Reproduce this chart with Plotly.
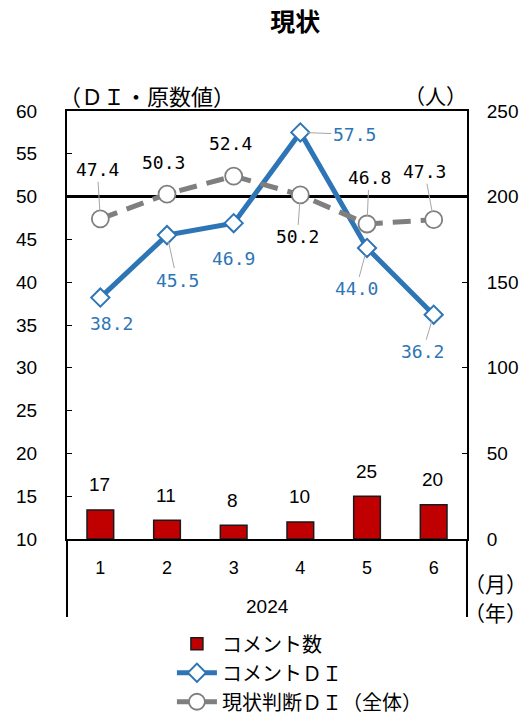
import plotly.graph_objects as go

# ---- data ----
months = ["1", "2", "3", "4", "5", "6"]
year = "2024"
comment_count = [17, 11, 8, 10, 25, 20]
comment_di = [38.2, 45.5, 46.9, 57.5, 44.0, 36.2]
overall_di = [47.4, 50.3, 52.4, 50.2, 46.8, 47.3]

left_ticks = [10, 15, 20, 25, 30, 35, 40, 45, 50, 55, 60]
right_ticks = [0, 50, 100, 150, 200, 250]

# ---- styles ----
NUM_FONT = "Liberation Sans, Arial, sans-serif"
LBL_FONT = "DejaVu Sans Mono, monospace"
JP_FONT = "Noto Sans CJK JP, sans-serif"
BLUE = "#2e75b6"
GRAY = "#7f7f7f"
RED = "#c00000"

fig = go.Figure()
fig.add_trace(go.Bar(
    x=months, y=comment_count, name="コメント数", yaxis="y",
    marker=dict(color=RED, line=dict(color="#1a1a1a", width=1.5)),
    width=0.4,
))
fig.add_trace(go.Scatter(
    x=months, y=comment_di, name="コメントＤＩ", yaxis="y2", mode="lines+markers",
    line=dict(color=BLUE, width=5),
    marker=dict(symbol="diamond", size=14, color="white", line=dict(color=BLUE, width=2)),
))
fig.add_trace(go.Scatter(
    x=months, y=overall_di, name="現状判断ＤＩ（全体）", yaxis="y2", mode="lines+markers",
    line=dict(color=GRAY, width=5, dash="18px,10px"),
    marker=dict(symbol="circle", size=17, color="white", line=dict(color=GRAY, width=1.8)),
))

annotations = []
# gray DI labels
gray_off = [(-3, -49), (-4, -32), (-3, -33), (-3, 42), (2, -46), (-9, -48)]
gray_lead = [True, False, False, True, True, True]
for i, v in enumerate(overall_di):
    ax, ay = gray_off[i]
    annotations.append(dict(
        x=i, y=v, xref="x", yref="y2", text=f"{v:.1f}",
        showarrow=True, arrowhead=0, arrowwidth=1,
        arrowcolor="#a6a6a6" if gray_lead[i] else "rgba(0,0,0,0)",
        standoff=8, ax=ax, ay=ay, font=dict(family=LBL_FONT, size=18, color="black"),
    ))
# blue DI labels
blue_off = [(11, 26), (10, 45), (0, 35), (54, 2), (-11, 41), (-11, 37)]
blue_lead = [False, True, False, True, True, True]
for i, v in enumerate(comment_di):
    ax, ay = blue_off[i]
    annotations.append(dict(
        x=i, y=v, xref="x", yref="y2", text=f"{v:.1f}",
        showarrow=True, arrowhead=0, arrowwidth=1,
        arrowcolor="#a6a6a6" if blue_lead[i] else "rgba(0,0,0,0)",
        standoff=7, ax=ax, ay=ay, font=dict(family=LBL_FONT, size=18, color=BLUE),
    ))
# bar count labels
for i, v in enumerate(comment_count):
    annotations.append(dict(
        x=i, y=v, xref="x", yref="y", text=str(v), showarrow=False,
        yanchor="middle", xanchor="center", yshift=25, xshift=-1,
        font=dict(family=NUM_FONT, size=19, color="black"),
    ))
# axis unit labels and year
jp = dict(family=JP_FONT, size=21, color="black")
annotations += [
    dict(x=0.2, y=1.0, xref="paper", yref="paper", yshift=16, text="（ＤＩ・原数値）",
         xanchor="center", yanchor="middle", showarrow=False, font=dict(family=JP_FONT, size=22, color="black")),
    dict(x=0.92, y=1.0, xref="paper", yref="paper", yshift=16, text="（人）",
         xanchor="center", yanchor="middle", showarrow=False, font=jp),
    dict(x=1.07, y=0, xref="paper", yref="paper", yshift=-44, text="（月）",
         xanchor="center", yanchor="middle", showarrow=False, font=jp),
    dict(x=1.07, y=0, xref="paper", yref="paper", yshift=-73, text="（年）",
         xanchor="center", yanchor="middle", showarrow=False, font=jp),
    dict(x=0.5, y=0, xref="paper", yref="paper", yshift=-67, text=year,
         xanchor="center", yanchor="middle", showarrow=False,
         font=dict(family=NUM_FONT, size=19, color="black")),
]

ext = dict(color="black", width=2)
fig.update_layout(
    width=529, height=720,
    margin=dict(l=67, r=62, t=111, b=181, autoexpand=False),
    paper_bgcolor="white", plot_bgcolor="white",
    title=dict(text="<b>現状</b>", x=0.558, xanchor="center", y=0.969, yanchor="middle",
               font=dict(family=JP_FONT, size=25, color="black")),
    showlegend=True,
    legend=dict(orientation="v", xref="container", x=0.325, xanchor="left",
                yref="container", y=0.133, yanchor="top",
                font=dict(family=JP_FONT, size=20, color="black"),
                bgcolor="rgba(0,0,0,0)", itemwidth=40),
    xaxis=dict(type="category", range=[-0.5, 5.5], showline=True, linecolor="black",
               linewidth=2, mirror=True, ticks="", ticklabelstandoff=11, showgrid=False,
               zeroline=False, automargin=False,
               tickfont=dict(family=NUM_FONT, size=18, color="black")),
    yaxis=dict(side="right", range=[0, 250], tickvals=right_ticks, ticks="inside",
               ticklen=5, tickcolor="black", showline=True, linecolor="black", linewidth=2,
               showgrid=False, zeroline=False, automargin=False, ticklabelstandoff=14,
               tickfont=dict(family=NUM_FONT, size=19, color="black")),
    yaxis2=dict(side="left", overlaying="y", range=[10, 60], tickvals=left_ticks,
                ticks="inside", ticklen=5, tickcolor="black", showline=True,
                linecolor="black", linewidth=2, showgrid=False, zeroline=False,
                automargin=False, ticklabelstandoff=24,
                tickfont=dict(family=NUM_FONT, size=19, color="black")),
    annotations=annotations,
    shapes=[
        dict(type="line", xref="paper", x0=0, x1=1, yref="y2", y0=50, y1=50,
             line=dict(color="black", width=3), layer="below"),
        dict(type="line", xref="paper", x0=0, x1=0, yref="paper", y0=0, y1=-0.182, line=ext),
        dict(type="line", xref="paper", x0=1, x1=1, yref="paper", y0=0, y1=-0.182, line=ext),
    ],
)

fig.write_html("out.html")
